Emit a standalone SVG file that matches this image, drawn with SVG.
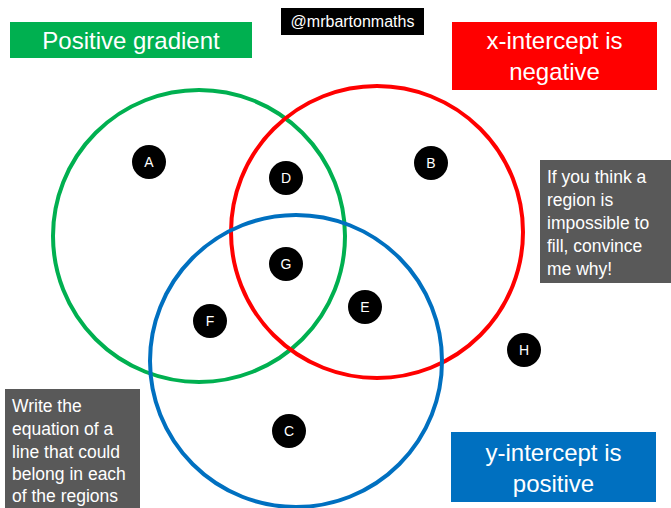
<svg xmlns="http://www.w3.org/2000/svg" width="671" height="508" viewBox="0 0 671 508">
<style>
.t{font-family:"Liberation Sans",Arial,sans-serif;fill:#fff;text-anchor:middle}
.big{font-size:24px}
.note{font-size:17.5px;text-anchor:start}
.dot{fill:#000}
.lbl{font-family:"Liberation Sans",Arial,sans-serif;font-size:14px;fill:#fff;text-anchor:middle}
.ring{fill:none;stroke-width:4}
</style>
<rect width="671" height="508" fill="#fff"/>
<g id="circles">
<circle id="green" class="ring" cx="199" cy="236" r="146" stroke="#00b050"/>
<circle id="red" class="ring" cx="377" cy="232" r="146" stroke="#ff0000"/>
<circle id="blue" class="ring" cx="296" cy="361" r="146" stroke="#0070c0"/>
</g>
<g id="title-green"><rect x="10" y="22" width="242" height="36" fill="#00b050"/><text class="t big" x="131" y="49">Positive gradient</text></g>
<g id="handle"><rect x="281" y="8" width="143" height="27" fill="#000"/><text class="t" x="352.5" y="27" font-size="16">@mrbartonmaths</text></g>
<g id="title-red"><rect x="452" y="22" width="205" height="68" fill="#ff0000"/><text class="t big" x="554.5" y="49">x-intercept is</text><text class="t big" x="554.5" y="80">negative</text></g>
<g id="title-blue"><rect x="451" y="432" width="205" height="70" fill="#0070c0"/><text class="t big" x="553.5" y="461">y-intercept is</text><text class="t big" x="553.5" y="492">positive</text></g>
<g id="note-right"><rect x="540" y="160" width="131" height="123" fill="#595959"/>
<text class="t note" x="547" y="183">If you think a</text><text class="t note" x="547" y="206">region is</text><text class="t note" x="547" y="229">impossible to</text><text class="t note" x="547" y="252">fill, convince</text><text class="t note" x="547" y="275">me why!</text></g>
<g id="note-left"><rect x="5" y="389" width="135" height="119" fill="#595959"/>
<text class="t note" x="12" y="412">Write the</text><text class="t note" x="12" y="435">equation of a</text><text class="t note" x="12" y="458">line that could</text><text class="t note" x="12" y="480">belong in each</text><text class="t note" x="12" y="502">of the regions</text></g>
<g id="A"><circle class="dot" cx="149" cy="162" r="17"/><text class="lbl" x="149" y="167">A</text></g>
<g id="B"><circle class="dot" cx="431" cy="163" r="17"/><text class="lbl" x="431" y="168">B</text></g>
<g id="D"><circle class="dot" cx="286" cy="178" r="17"/><text class="lbl" x="286" y="183">D</text></g>
<g id="G"><circle class="dot" cx="286" cy="264" r="17"/><text class="lbl" x="286" y="269">G</text></g>
<g id="F"><circle class="dot" cx="210" cy="321" r="17"/><text class="lbl" x="210" y="326">F</text></g>
<g id="E"><circle class="dot" cx="365" cy="307" r="17"/><text class="lbl" x="365" y="312">E</text></g>
<g id="H"><circle class="dot" cx="524" cy="350" r="17"/><text class="lbl" x="524" y="355">H</text></g>
<g id="C"><circle class="dot" cx="289" cy="431" r="17"/><text class="lbl" x="289" y="436">C</text></g>
</svg>
